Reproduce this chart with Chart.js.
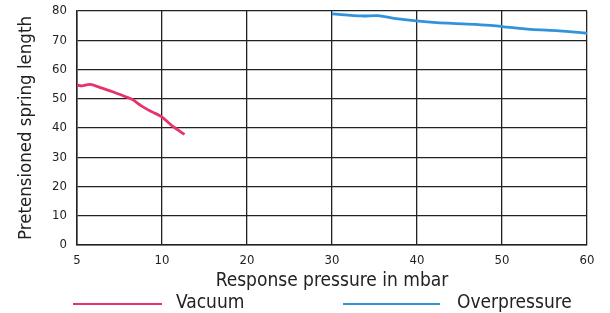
<!DOCTYPE html>
<html>
<head>
<meta charset="utf-8">
<script src="https://cdn.jsdelivr.net/npm/chart.js@4"></script>
<style>
  html, body { margin: 0; padding: 0; background: #fff; }
  #wrap { width: 610px; height: 313px; }
</style>
</head>
<body>
<div id="wrap"><canvas id="springChart" width="610" height="313"></canvas></div>
<script>
// tick labels on the x axis (spaced evenly in the original, not linear)
const xTickLabels = [5, 10, 20, 30, 40, 50, 60];

// Vacuum curve, pressure in mbar / spring length
const vacuumPressure = [5, 5.29, 5.76, 6.33, 7.1, 7.86, 8.24, 8.81, 9.39, 9.96, 11.09, 12.65];
const vacuumLength = [54.7, 54.4, 54.9, 53.9, 52.4, 50.7, 49.8, 47.5, 45.6, 43.9, 41.0, 37.8];

// Overpressure curve
const overPressure = [30, 33.5, 35.4, 37.3, 39.9, 42.3, 45.4, 48.6, 50.2, 53.4, 56.7, 60];
const overLength = [79.0, 78.3, 78.4, 77.5, 76.6, 76.0, 75.6, 75.1, 74.6, 73.7, 73.2, 72.4];

const seriesNames = ["Vacuum", "Overpressure"];
const seriesColors = ["#e6336a", "#3193dc"];

const FONT = "'DejaVu Sans Condensed', 'DejaVu Sans', sans-serif";
const INK = "#222";

// map a pressure value onto the evenly spaced tick positions
function toIndex(p) {
    for (let i = 0; i < xTickLabels.length - 1; i++) {
        const a = xTickLabels[i], b = xTickLabels[i + 1];
        if (p <= b) return i + (p - a) / (b - a);
    }
    return xTickLabels.length - 1;
}

function points(xs, ys) {
    return xs.map((p, i) => ({ x: toIndex(p), y: ys[i] }));
}

// legend drawn by hand: long line sample then label
const lineLegend = {
    id: "lineLegend",
    afterDraw(chart) {
        const ctx = chart.ctx;
        const area = chart.chartArea;
        const y = 304;
        const starts = [area.left - 4, area.left + 266];
        const lens = [89, 97];
        const gaps = [14, 17];
        ctx.save();
        ctx.font = "19px " + FONT;
        ctx.textBaseline = "middle";
        chart.data.datasets.forEach((ds, i) => {
            const x0 = starts[i];
            ctx.strokeStyle = ds.borderColor;
            ctx.lineWidth = 2;
            ctx.beginPath();
            ctx.moveTo(x0, y);
            ctx.lineTo(x0 + lens[i], y);
            ctx.stroke();
            ctx.fillStyle = INK;
            ctx.fillText(ds.label, x0 + lens[i] + gaps[i], y - 1);
        });
        ctx.restore();
    }
};

const ctx = document.getElementById("springChart");

new Chart(ctx, {
    type: "line",
    data: {
        datasets: [
            {
                label: seriesNames[0],
                data: points(vacuumPressure, vacuumLength),
                borderColor: seriesColors[0],
                backgroundColor: seriesColors[0],
                borderWidth: 2.8,
                pointRadius: 0,
                tension: 0.3,
                fill: false
            },
            {
                label: seriesNames[1],
                data: points(overPressure, overLength),
                borderColor: seriesColors[1],
                backgroundColor: seriesColors[1],
                borderWidth: 2.8,
                pointRadius: 0,
                tension: 0.3,
                fill: false
            }
        ]
    },
    options: {
        responsive: false,
        animation: false,
        layout: { padding: { top: 11, right: 23, bottom: 21, left: 0 } },
        plugins: {
            legend: { display: false },
            tooltip: { enabled: false }
        },
        scales: {
            x: {
                type: "linear",
                min: 0,
                max: xTickLabels.length - 1,
                afterBuildTicks: (scale) => {
                    scale.ticks = xTickLabels.map((v, i) => ({ value: i }));
                },
                ticks: {
                    callback: (v) => xTickLabels[v],
                    color: INK,
                    font: { family: FONT, size: 13 },
                    padding: 8,
                    maxRotation: 0
                },
                grid: { color: INK, lineWidth: 1.3, drawTicks: false },
                border: { color: INK, width: 1.5 },
                title: {
                    display: true,
                    text: "Response pressure in mbar",
                    color: INK,
                    font: { family: FONT, size: 19 },
                    padding: { top: 0, bottom: 0 }
                },
                afterFit: (scale) => { scale.height = 47; }
            },
            y: {
                min: 0,
                max: 80,
                ticks: {
                    stepSize: 10,
                    color: INK,
                    font: { family: FONT, size: 13 },
                    padding: 10
                },
                grid: { color: INK, lineWidth: 1.3, drawTicks: false },
                border: { color: INK, width: 1.5 },
                title: {
                    display: true,
                    text: "Pretensioned spring length",
                    color: INK,
                    font: { family: FONT, size: 18.5 },
                    padding: { top: 15, bottom: 0 }
                },
                afterFit: (scale) => {
                    scale.width = 77;
                    scale.paddingTop = 0;
                    scale.paddingBottom = 0;
                }
            }
        }
    },
    plugins: [lineLegend]
});
</script>
</body>
</html>
